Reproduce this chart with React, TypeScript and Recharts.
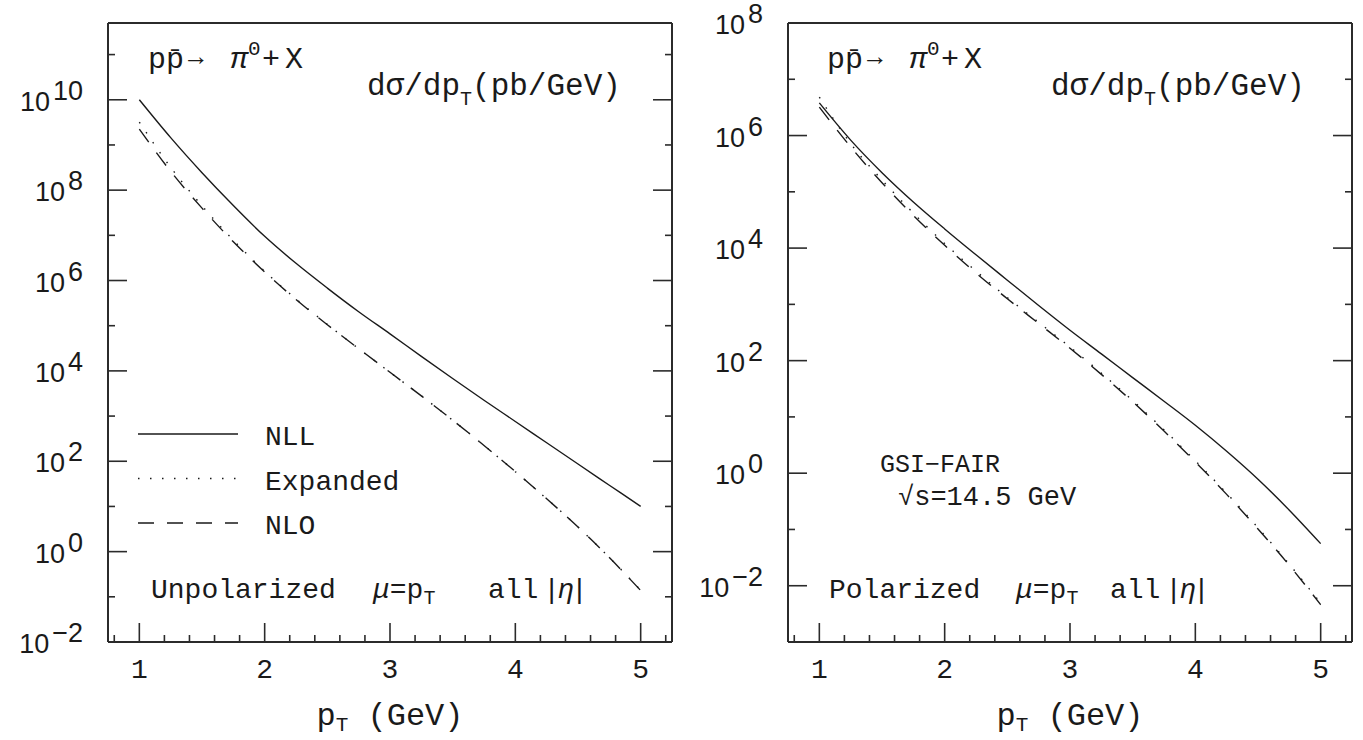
import { LineChart, Line, XAxis, YAxis, ReferenceLine, Legend, Label } from 'recharts'

// p_T grid (GeV)
const PT = [1, 1.25, 1.5, 1.75, 2, 2.25, 2.5, 2.75, 3, 3.25, 3.5, 3.75, 4, 4.25, 4.5, 4.75, 5]

// unpolarized dsigma/dpT (pb/GeV)
const NLL_UNPOL = [1e10, 1.45e9, 2.43e8, 4.57e7, 9.5e6, 2.4e6, 6.8e5, 2.04e5, 6.6e4, 2.1e4, 6.8e3, 2.24e3, 760, 257, 87, 29.5, 10]
const EXP_UNPOL = [3.2e9, 3.2e8, 4.5e7, 7.8e6, 1.6e6, 3.9e5, 1.07e5, 3.1e4, 9.3e3, 2.8e3, 810, 224, 59, 14.8, 3.5, 0.74, 0.14]
const NLO_UNPOL = [2.24e9, 2.6e8, 4.0e7, 7.2e6, 1.55e6, 3.8e5, 1.05e5, 3.1e4, 9.3e3, 2.8e3, 810, 224, 59, 14.8, 3.5, 0.74, 0.138]

// polarized dsigma/dpT (pb/GeV)
const NLL_POL = [3.8e6, 8.3e5, 2.19e5, 6.6e4, 2.19e4, 7.6e3, 2.69e3, 955, 347, 132, 50, 19, 7.1, 2.45, 0.78, 0.22, 0.056]
const EXP_POL = [4.8e6, 7.2e5, 1.62e5, 4.2e4, 1.2e4, 3.9e3, 1.32e3, 479, 174, 60, 19.5, 5.9, 1.66, 0.44, 0.107, 0.024, 0.0049]
const NLO_POL = [3.2e6, 6.3e5, 1.45e5, 3.8e4, 1.12e4, 3.6e3, 1.26e3, 457, 166, 57, 18.6, 5.6, 1.58, 0.42, 0.102, 0.023, 0.0046]

const X_TICKS = [0.8, 1, 1.2, 1.4, 1.6, 1.8, 2, 2.2, 2.4, 2.6, 2.8, 3, 3.2, 3.4, 3.6, 3.8, 4, 4.2, 4.4, 4.6, 4.8, 5, 5.2]
const Y_TICKS_UNPOL = [1e-2, 1e-1, 1, 10, 1e2, 1e3, 1e4, 1e5, 1e6, 1e7, 1e8, 1e9, 1e10, 1e11]
const Y_TICKS_POL = [1e-3, 1e-2, 1e-1, 1, 10, 1e2, 1e3, 1e4, 1e5, 1e6, 1e7, 1e8]
const Y_DOMAIN_UNPOL: [number, number] = [1e-2, 5e11]
const Y_DOMAIN_POL: [number, number] = [1e-3, 1e8]

const SERIES = [
  { key: 'nll', name: 'NLL', dash: undefined },
  { key: 'exp', name: 'Expanded', dash: '1.5 10.5' },
  { key: 'nlo', name: 'NLO', dash: '16 13' },
]

const INK = '#1a1a1a'
const FRAME = '#2b2b2b'
const MONO = '"Liberation Mono", "DejaVu Sans Mono", monospace'
const SANS = '"Liberation Sans", Arial, sans-serif'

function buildRows(nll: number[], exp: number[], nlo: number[]) {
  return PT.map((pt, i) => ({ pt, nll: nll[i], exp: exp[i], nlo: nlo[i] }))
}

function XTick(props: any) {
  const { x, y, payload } = props
  const v = payload.value
  const major = Math.abs(v - Math.round(v)) < 1e-6
  return (
    <g>
      <line x1={x} x2={x} y1={y} y2={y - (major ? 19 : 7)} stroke={FRAME} strokeWidth={1.6} />
      {major && (
        <text x={x} y={y + 36} textAnchor="middle" fontFamily={MONO} fontSize={28} fill={INK}>
          {Math.round(v)}
        </text>
      )}
    </g>
  )
}

function YTickLeft(props: any) {
  const { x, y, payload } = props
  const e = Math.round(Math.log10(payload.value))
  const major = e % 2 === 0
  return (
    <g>
      <line x1={x} x2={x + (major ? 19 : 7)} y1={y} y2={y} stroke={FRAME} strokeWidth={1.6} />
      {major && (
        <text x={x - 25} y={y + 11} textAnchor="end" fontFamily={SANS} fontSize={27} fill={INK}>
          10
          <tspan dy={-11} dx={3}>{e < 0 ? `\u2212${-e}` : e}</tspan>
        </text>
      )}
    </g>
  )
}

function YTickRight(props: any) {
  const { x, y, payload } = props
  const e = Math.round(Math.log10(payload.value))
  const major = e % 2 === 0
  return <line x1={x} x2={x - (major ? 19 : 7)} y1={y} y2={y} stroke={FRAME} strokeWidth={1.6} />
}

function AxisTitle(props: any) {
  const { viewBox } = props
  const cx = viewBox.x + viewBox.width / 2
  return (
    <text x={cx} y={viewBox.y + 83} textAnchor="middle" fontFamily={MONO} fontSize={32} fill={INK}>
      p<tspan fontSize={21} dy={6}>T</tspan>
      <tspan dy={-6}> (GeV)</tspan>
    </text>
  )
}

function LegendBox() {
  return (
    <svg width={300} height={130}>
      {SERIES.map((s, i) => (
        <g key={s.key}>
          <line x1={8} x2={108} y1={19 + i * 44.5} y2={19 + i * 44.5} stroke={INK} strokeWidth={1.5}
            strokeDasharray={s.dash} />
          <text x={135} y={30 + i * 44.5} fontFamily={MONO} fontSize={28} fill={INK}>{s.name}</text>
        </g>
      ))}
    </svg>
  )
}

function Title({ x }: { x: number }) {
  return (
    <text y={68} fontFamily={MONO} fontSize={30} fill={INK}>
      <tspan x={x}>pp{'\u0304'}</tspan>
      <tspan x={x + 35} fontFamily={SANS} fontSize={26} dy={-3}>{'\u2192'}</tspan>
      <tspan x={x + 82} dy={3} fontStyle="italic">{'\u03c0'}</tspan>
      <tspan x={x + 100} dy={-13} fontSize={21}>0</tspan>
      <tspan x={x + 114} dy={13}>+</tspan>
      <tspan x={x + 137}>X</tspan>
    </text>
  )
}

function Ylabel({ x }: { x: number }) {
  return (
    <text x={x} y={95} fontFamily={MONO} fontSize={31} fill={INK}>
      d{'\u03c3'}/dp<tspan fontSize={20} dy={10}>T</tspan>
      <tspan dy={-10}>(pb/GeV)</tspan>
    </text>
  )
}

function Scale({ x, x2, x3, label }: { x: number; x2: number; x3: number; label: string }) {
  return (
    <g fontFamily={MONO} fontSize={28} fill={INK}>
      <text x={x} y={598}>{label}</text>
      <text x={x2} y={598}>
        <tspan fontStyle="italic">{'\u03bc'}</tspan>=p<tspan fontSize={20} dy={6}>T</tspan>
      </text>
      <text x={x3} y={598}>all</text>
      <text x={x3 + 60} y={598} fontFamily={SANS}>
        |<tspan fontStyle="italic" dx={3}>{'\u03b7'}</tspan><tspan dx={2}>|</tspan>
      </text>
    </g>
  )
}

interface PanelProps {
  data: ReturnType<typeof buildRows>
  yDomain: [number, number]
  yTicks: number[]
  legend?: boolean
  children?: any
}

function Panel({ data, yDomain, yTicks, legend, children }: PanelProps) {
  return (
    <LineChart width={680} height={740} data={data} margin={{ top: 23, right: 0, bottom: 38, left: 8 }}>
      <XAxis dataKey="pt" type="number" domain={[0.75, 5.25]} ticks={X_TICKS} interval={0}
        allowDataOverflow tickLine={false} tickSize={0} tickMargin={0} height={60}
        axisLine={{ stroke: FRAME, strokeWidth: 2 }} tick={<XTick />}>
        <Label content={<AxisTitle />} />
      </XAxis>
      <YAxis type="number" scale="log" domain={yDomain} ticks={yTicks} interval={0} allowDataOverflow
        width={100} tickLine={false} tickSize={0} tickMargin={0}
        axisLine={{ stroke: FRAME, strokeWidth: 2 }} tick={<YTickLeft />} />
      <YAxis yAxisId="right" orientation="right" type="number" scale="log" domain={yDomain} ticks={yTicks}
        interval={0} allowDataOverflow width={8} tickLine={false} tickSize={0} tickMargin={0}
        axisLine={{ stroke: FRAME, strokeWidth: 2 }} tick={<YTickRight />} />
      <ReferenceLine y={yDomain[1]} stroke={FRAME} strokeWidth={2} />
      {SERIES.map((s) => (
        <Line key={s.key} dataKey={s.key} name={s.name} type="monotone" stroke={INK} strokeWidth={1.4}
          strokeDasharray={s.dash} dot={false} isAnimationActive={false} />
      ))}
      {legend && (
        <Legend layout="vertical" align="center" verticalAlign="middle" content={<LegendBox />}
          wrapperStyle={{ position: 'absolute', left: 130, top: 415, width: 300 }} />
      )}
      {children}
    </LineChart>
  )
}

export default function App() {
  return (
    <div style={{ position: 'absolute', left: 0, top: 0, width: 1363, height: 740, display: 'flex', background: '#fff' }}>
      <Panel data={buildRows(NLL_UNPOL, EXP_UNPOL, NLO_UNPOL)} yDomain={Y_DOMAIN_UNPOL} yTicks={Y_TICKS_UNPOL} legend>
        <Title x={148} />
        <Ylabel x={367} />
        <Scale x={151} x2={373} x3={488} label="Unpolarized" />
      </Panel>
      <Panel data={buildRows(NLL_POL, EXP_POL, NLO_POL)} yDomain={Y_DOMAIN_POL} yTicks={Y_TICKS_POL}>
        <Title x={147} />
        <Ylabel x={371} />
        <text x={200} y={472} fontFamily={MONO} fontSize={25} fill={INK}>GSI{'\u2212'}FAIR</text>
        <text x={218} y={505} fontFamily={MONO} fontSize={27} fill={INK}>{'\u221a'}s=14.5 GeV</text>
        <Scale x={149} x2={336} x3={430} label="Polarized" />
      </Panel>
    </div>
  )
}
